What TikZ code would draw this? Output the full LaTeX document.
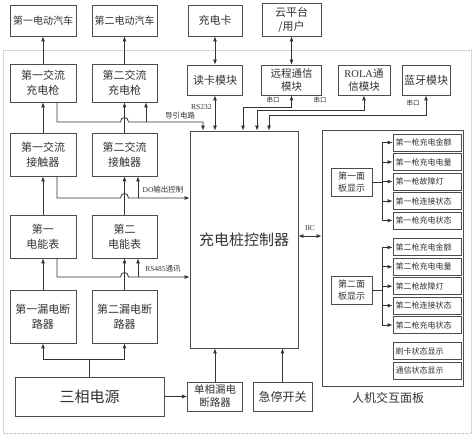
\documentclass[tikz,border=0pt]{standalone}
\usepackage{fontspec}
\setmainfont{Noto Sans CJK SC}
\newfontfamily\lat{Liberation Serif}
\usetikzlibrary{arrows, arrows.meta, calc, positioning}

\begin{document}
\begin{tikzpicture}[x=1pt, y=-1pt, >={Latex[length=5pt,width=4pt]}, line width=0.8pt, black!80,
	box/.style={draw=black!70, fill=white, align=center, inner sep=1pt, font=\fontsize{11}{15}\selectfont},
	item/.style={draw=black!70, minimum height=17pt, text width=63pt, align=left, inner sep=2.5pt, font=\fontsize{8}{9}\selectfont},
	lbl/.style={font=\fontsize{7.5}{8}\selectfont, inner sep=1pt}]
	\useasboundingbox (0,0) rectangle (474,438);
	\draw [gray!50, densely dotted, line width=0.6pt] (3,50) rectangle (471,433);
	
	% top row
	\node [box, minimum width=66pt, minimum height=31pt, font=\fontsize{10}{12}\selectfont] (ev1) at (43,20.5) {第一电动汽车};
	\node [box, minimum width=65pt, minimum height=31pt, font=\fontsize{10}{12}\selectfont] (ev2) at (124.5,20.5) {第二电动汽车};
	\node [box, minimum width=54pt, minimum height=31pt] (card) at (215,20.5) {充电卡};
	\node [box, minimum width=59pt, minimum height=33pt, font=\fontsize{11}{14}\selectfont] (cloud) at (291.5,19.5) {云平台\\/用户};
	
	% guns and modules
	\node [box, minimum width=66pt, minimum height=38pt] (gun1) at (43,83) {第一交流\\充电枪};
	\node [box, minimum width=65pt, minimum height=38pt] (gun2) at (124.5,83) {第二交流\\充电枪};
	\node [box, minimum width=55pt, minimum height=30pt] (reader) at (215,80) {读卡模块};
	\node [box, minimum width=60pt, minimum height=30pt, font=\fontsize{10.5}{13}\selectfont] (remote) at (291.5,80) {远程通信\\模块};
	\node [box, minimum width=52pt, minimum height=30pt, font=\fontsize{10.5}{13}\selectfont] (rola) at (364,80) {{\lat ROLA}通\\信模块};
	\node [box, minimum width=48pt, minimum height=30pt] (bt) at (426,80) {蓝牙模块};
	
	% left column
	\node [box, minimum width=66pt, minimum height=43pt] (con1) at (43,154.5) {第一交流\\接触器};
	\node [box, minimum width=65pt, minimum height=43pt] (con2) at (124.5,154.5) {第二交流\\接触器};
	\node [box, minimum width=66pt, minimum height=43pt] (meter1) at (43,236.5) {第一\\电能表};
	\node [box, minimum width=65pt, minimum height=43pt] (meter2) at (124.5,236.5) {第二\\电能表};
	\node [box, minimum width=66pt, minimum height=53pt] (brk1) at (43,316.5) {第一漏电断\\路器};
	\node [box, minimum width=65pt, minimum height=53pt] (brk2) at (124.5,316.5) {第二漏电断\\路器};
	\node [box, minimum width=149pt, minimum height=39pt, font=\fontsize{15}{17}\selectfont] (power) at (89.5,396.5) {三相电源};
	\node [box, minimum width=55pt, minimum height=29pt, font=\fontsize{10.5}{13}\selectfont] (sbrk) at (215,396.5) {单相漏电\\断路器};
	\node [box, minimum width=59pt, minimum height=29pt, font=\fontsize{12}{14}\selectfont] (estop) at (282.5,396.5) {急停开关};
	
	% controller
	\node [box, minimum width=108pt, minimum height=217pt, font=\fontsize{15}{17}\selectfont] (ctr) at (244,239.5) {充电桩控制器};
	
	% panel
	\node [box, minimum width=141pt, minimum height=256pt] (hmi) at (392.5,258) {};
	\node [font=\fontsize{12}{14}\selectfont] (hmilbl) at (388,398) {人机交互面板};
	\node [box, minimum width=41pt, minimum height=28pt, font=\fontsize{9}{12}\selectfont] (p1) at (351.5,182) {第一面\\板显示};
	\node [box, minimum width=41pt, minimum height=28pt, font=\fontsize{9}{12}\selectfont] (p2) at (351.5,290) {第二面\\板显示};
	\foreach \t [count=\i] in {第一枪充电金额, 第一枪充电电量, 第一枪故障灯, 第一枪连接状态, 第一枪充电状态}
		\node [item] (a\i) at (427, 123+19.5*\i) {\t};
	\foreach \t [count=\i] in {第二枪充电金额, 第二枪充电电量, 第二枪故障灯, 第二枪连接状态, 第二枪充电状态}
		\node [item] (b\i) at (427, 228+19.4*\i) {\t};
	\node [item] (s1) at (427,351) {刷卡状态显示};
	\node [item] (s2) at (427,370.5) {通信状态显示};
	
	\draw (p1.east) -- ++(10,0) coordinate (j1);
	\draw (j1 |- a1.west) -- (j1 |- a5.west);
	\draw (p2.east) -- ++(10,0) coordinate (j2);
	\draw (j2 |- b1.west) -- (j2 |- b5.west);
	\foreach \i in {1,...,5} {
		\draw [->] (j1 |- a\i.west) -- (a\i.west);
		\draw [->] (j2 |- b\i.west) -- (b\i.west);
	}
	
	% vertical chains
	\draw [->] (gun1) -- (ev1);
	\draw [->] (gun2) -- (ev2);
	\draw [->] (con1) -- (gun1);
	\draw [->] (con2) -- (gun2);
	\draw [->] (meter1) -- (con1);
	\draw [->] (meter2) -- (con2);
	\draw [->] (brk1) -- (meter1);
	\draw [->] (brk2) -- (meter2);
	
	% card, cloud, serial ports
	\draw [<->] (reader) -- (card);
	\draw [<->] (reader.south) -- (reader.south |- ctr.north);
	\node [lbl, anchor=east] (rs232) at (213,107) {\lat RS232};
	\draw [<->] (cloud) -- (remote);
	\draw [<->] (remote.south) -- ++(0,12) -| ([xshift=-1pt]ctr.north);
	\draw [<->] (rola.south) -- ++(0,15) -| ([xshift=13pt]ctr.north);
	\draw [<->] (bt.south) -- ++(0,20) -| ([xshift=25pt]ctr.north);
	\node [lbl, font=\fontsize{6.5}{7}\selectfont] (sp1) at (273,100) {串口};
	\node [lbl, font=\fontsize{6.5}{7}\selectfont] (sp2) at (320,100) {串口};
	\node [lbl, font=\fontsize{6.5}{7}\selectfont] (sp3) at (413,103) {串口};
	
	% guide circuit
	\draw [->] ([xshift=14pt]gun1.south) |- (120.5,122) .. controls (120.5,116) and (128.5,116) .. (128.5,122) -| ([xshift=-41pt]ctr.north);
	\draw [->] (146,122) -- (gun2.south -| 146,0);
	\node [lbl] (guide) at (180,115.5) {导引电路};
	
	% DO output
	\draw [->] ([xshift=14pt]con1.south) |- (120.5,198) .. controls (120.5,192) and (128.5,192) .. (128.5,198) -- (ctr.west |- 0,198);
	\draw [->] (138,198) -- (con2.south -| 138,0);
	\node [lbl] (do) at (163,190) {{\lat DO}输出控制};
	
	% RS485
	\draw [->] ([xshift=14pt]meter1.south) |- (120.5,277) .. controls (120.5,271) and (128.5,271) .. (128.5,277) -- (ctr.west |- 0,277);
	\draw [->] (138,277) -- (meter2.south -| 138,0);
	\node [lbl] (rs485) at (163,269) {{\lat RS485}通讯};
	
	% power
	\draw [->] (power.north) -- ++(0,-17) -| (brk1.south);
	\draw [->] (power.north) -- ++(0,-17) -| (brk2.south);
	\draw [->] (power) -- (sbrk);
	\draw [->] (sbrk.north) -- (sbrk.north |- ctr.south);
	\draw [->] (estop.north) -- (estop.north |- ctr.south);
	
	% IIC
	\draw [<->] (ctr.east |- 0,236) -- (hmi.west |- 0,236);
	\node [lbl] (iic) at (310,228) {\lat IIC};
\end{tikzpicture}
\end{document}
